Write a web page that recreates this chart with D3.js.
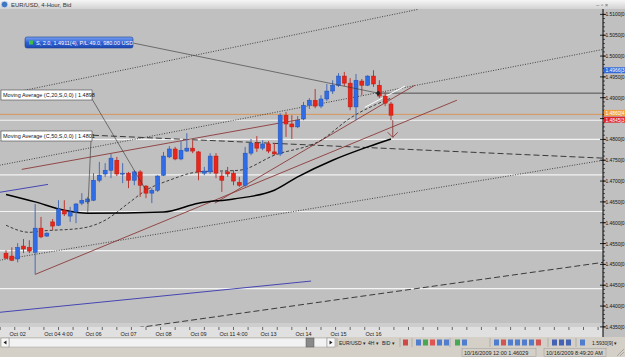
<!DOCTYPE html>
<html lang="en">
<head>
<meta charset="UTF-8" />
<title>EUR/USD, 4-Hour, Bid</title>
<script src="https://d3js.org/d3.v7.min.js"></script>
<style>
  body { margin: 0; width: 625px; height: 357px; overflow: hidden; background: #d4d0c8; }
  svg { display: block; font-family: "Liberation Sans", Arial, sans-serif; }
</style>
</head>
<body>
<svg id="chart" width="625" height="357"></svg>
<script>
// 4-hour candles, oldest first
const opens = [1.4527,1.4520,1.4513,1.4544,1.4541,1.4529,1.4587,1.4568,1.4602,1.4594,
  1.4630,1.4616,1.4626,1.4647,1.4650,1.4654,1.4702,1.4717,1.4726,1.4750,
  1.4717,1.4719,1.4702,1.4722,1.4688,1.4671,1.4678,1.4714,1.4758,1.4777,
  1.4753,1.4772,1.4779,1.4770,1.4719,1.4722,1.4760,1.4712,1.4722,1.4719,
  1.4697,1.4690,1.4767,1.4791,1.4779,1.4789,1.4770,1.4765,1.4858,1.4837,
  1.4830,1.4849,1.4882,1.4894,1.4880,1.4897,1.4916,1.4930,1.4952,1.4935,
  1.4878,1.4940,1.4930,1.4952,1.4930,1.4904,1.4885];
const highs = [1.4534,1.4541,1.4551,1.4561,1.4558,1.4645,1.4614,1.4577,1.4609,1.4654,
  1.4654,1.4638,1.4647,1.4671,1.4662,1.4719,1.4746,1.4743,1.4765,1.4758,
  1.4743,1.4722,1.4726,1.4726,1.4690,1.4683,1.4714,1.4770,1.4784,1.4782,
  1.4796,1.4815,1.4798,1.4772,1.4734,1.4767,1.4767,1.4722,1.4734,1.4726,
  1.4710,1.4782,1.4801,1.4808,1.4798,1.4796,1.4791,1.4863,1.4866,1.4858,
  1.4856,1.4890,1.4899,1.4921,1.4906,1.4933,1.4942,1.4959,1.4962,1.4947,
  1.4957,1.4945,1.4954,1.4966,1.4942,1.4914,1.4890];
const lows = [1.4513,1.4508,1.4505,1.4527,1.4527,1.4476,1.4563,1.4566,1.4582,1.4592,
  1.4616,1.4602,1.4599,1.4642,1.4645,1.4652,1.4697,1.4710,1.4707,1.4712,
  1.4695,1.4683,1.4690,1.4662,1.4659,1.4647,1.4674,1.4712,1.4755,1.4750,
  1.4750,1.4770,1.4767,1.4702,1.4714,1.4717,1.4707,1.4674,1.4710,1.4690,
  1.4686,1.4686,1.4762,1.4770,1.4774,1.4767,1.4762,1.4760,1.4806,1.4801,
  1.4827,1.4846,1.4873,1.4875,1.4875,1.4892,1.4909,1.4926,1.4928,1.4870,
  1.4846,1.4906,1.4928,1.4926,1.4899,1.4880,1.4846];
const closes = [1.4515,1.4510,1.4541,1.4537,1.4532,1.4587,1.4566,1.4575,1.4592,1.4633,
  1.4621,1.4626,1.4645,1.4654,1.4657,1.4702,1.4714,1.4726,1.4755,1.4717,
  1.4719,1.4702,1.4722,1.4690,1.4671,1.4678,1.4712,1.4760,1.4777,1.4753,
  1.4774,1.4779,1.4772,1.4722,1.4724,1.4760,1.4719,1.4702,1.4717,1.4700,
  1.4690,1.4767,1.4791,1.4779,1.4789,1.4772,1.4765,1.4858,1.4837,1.4830,
  1.4846,1.4882,1.4894,1.4880,1.4897,1.4916,1.4930,1.4952,1.4935,1.4878,
  1.4942,1.4930,1.4952,1.4933,1.4904,1.4887,1.4858];

// moving averages as drawn: [bar, price]
const ma20 = [[0,1.4594],[4,1.4577],[6,1.4580],[13,1.4587],[17,1.4606],[21,1.4647],[24,1.4678],
  [28,1.4702],[33,1.4722],[40,1.4726],[46,1.4762],[54,1.4798],[59,1.4851],[66,1.4899]];
const ma50 = [[0,1.4668],[5,1.4650],[10,1.4630],[14,1.4623],[27,1.4626],[33,1.4647],[39,1.4657],
  [46,1.4678],[50,1.4710],[56,1.4750],[62,1.4782],[66,1.4801]];

const dateLabels = ["Oct 02","Oct 04 4:00","Oct 06","Oct 07","Oct 08","Oct 09","Oct 11 4:00","Oct 13","Oct 14","Oct 15","Oct 16"];
const dateLabelBars = [2,9,15,21,27,33,39,45,51,57,63];
const priceTicks = [1.510,1.505,1.500,1.495,1.490,1.485,1.480,1.475,1.470,1.465,1.460,1.455,1.450,1.445,1.440,1.435];

// horizontal levels and user drawn lines, [bar, price]
const whiteLevels = [1.4846,1.4800,1.4715,1.4627,1.4533,1.4442];
const bidPrice = 1.4860;
const orderPrice = 1.4911;
const orderBar = 63.8;
const dottedLines = [[[1.5,1.4913],[70.6,1.5112]], [[-1.1,1.4738],[102.4,1.5016]], [[-1.1,1.4510],[102.4,1.4750]]];
const dashedLines = [[[19.5,1.4342],[102.4,1.4505]], [[14.9,1.4810],[102.4,1.4755]]];
const blueLines = [[[-1.1,1.4673],[7.2,1.4692]], [[-1.1,1.4385],[52.3,1.4460]]];
const brownLines = [[[2.7,1.4728],[50.4,1.4848]], [[5.0,1.4476],[77.3,1.4894]], [[35.8,1.4647],[70.1,1.4930]]];
const whiteSegment = [[61.5,1.4877],[68.4,1.4928]];
const arrowDown = [[66.3,1.4846],[66.3,1.4805]];
const axisMarks = [{ v: 1.4966, t: "1.4966[3" }, { v: 1.4860, t: "1.4860[4" }, { v: 1.4845, t: "1.4845[3" }];

const svg = d3.select("#chart");
const plotTop = 9, plotBottom = 327, plotRight = 603;

const x = d3.scaleLinear().domain([0, 66]).range([6, 391]);
const y = d3.scaleLinear().domain([1.435, 1.51]).range([326.9, 14.4]);
const pt = (p) => [x(p[0]), y(p[1])];
const line = d3.line();

const defs = svg.append("defs");
defs.append("clipPath").attr("id", "plotClip")
  .append("rect").attr("x", 0).attr("y", plotTop).attr("width", plotRight).attr("height", plotBottom - plotTop);
const tg = defs.append("linearGradient").attr("id", "titleGrad").attr("x1", 0).attr("y1", 0).attr("x2", 0).attr("y2", 1);
tg.append("stop").attr("offset", 0).attr("stop-color", "#f6f6f6");
tg.append("stop").attr("offset", 1).attr("stop-color", "#d2d2d2");
const bg = defs.append("linearGradient").attr("id", "blueGrad").attr("x1", 0).attr("y1", 0).attr("x2", 0).attr("y2", 1);
bg.append("stop").attr("offset", 0).attr("stop-color", "#7aa2f0");
bg.append("stop").attr("offset", 0.5).attr("stop-color", "#2f62d6");
bg.append("stop").attr("offset", 1).attr("stop-color", "#1d48b0");

// plot and axis backgrounds
svg.append("rect").attr("x", 0).attr("y", plotTop).attr("width", 625).attr("height", 337 - plotTop).attr("fill", "#c0c0c0");
svg.append("rect").attr("x", 0).attr("y", 323).attr("width", plotRight).attr("height", 4).attr("fill", "#cecece");
svg.append("rect").attr("x", 0).attr("y", plotBottom).attr("width", plotRight).attr("height", 10).attr("fill", "#e0e0e0");

const g = svg.append("g").attr("clip-path", "url(#plotClip)");

g.selectAll(".level").data(whiteLevels).enter().append("line")
  .attr("x1", 0).attr("x2", plotRight).attr("y1", (d) => y(d)).attr("y2", (d) => y(d))
  .attr("stroke", "#f4f4f4").attr("stroke-width", 1.2);

g.append("line").attr("x1", 0).attr("x2", plotRight).attr("y1", y(bidPrice)).attr("y2", y(bidPrice))
  .attr("stroke", "#d9904e").attr("stroke-width", 0.9);
g.append("line").attr("x1", x(orderBar)).attr("x2", plotRight).attr("y1", y(orderPrice)).attr("y2", y(orderPrice))
  .attr("stroke", "#303030").attr("stroke-width", 0.8);

g.selectAll(".dotted").data(dottedLines).enter().append("path")
  .attr("d", (d) => line(d.map(pt))).attr("fill", "none")
  .attr("stroke", "#222").attr("stroke-width", 0.8).attr("stroke-dasharray", "1,1.5");
g.selectAll(".dashed").data(dashedLines).enter().append("path")
  .attr("d", (d) => line(d.map(pt))).attr("fill", "none")
  .attr("stroke", "#2a2a2a").attr("stroke-width", 0.9).attr("stroke-dasharray", "6,3");
g.selectAll(".blue").data(blueLines).enter().append("path")
  .attr("d", (d) => line(d.map(pt))).attr("fill", "none")
  .attr("stroke", "#4646b4").attr("stroke-width", 1);
g.selectAll(".brown").data(brownLines).enter().append("path")
  .attr("d", (d) => line(d.map(pt))).attr("fill", "none")
  .attr("stroke", "#8c3a3a").attr("stroke-width", 0.9);
g.append("path").attr("d", line(whiteSegment.map(pt))).attr("stroke", "#ffffff").attr("stroke-width", 1);

// moving averages
const curve = d3.line().curve(d3.curveMonotoneX);
g.append("path").attr("d", curve(ma20.map(pt))).attr("fill", "none")
  .attr("stroke", "#1a1a1a").attr("stroke-width", 0.8).attr("stroke-dasharray", "3,2");
g.append("path").attr("d", curve(ma50.map(pt))).attr("fill", "none")
  .attr("stroke", "#000").attr("stroke-width", 1.5);

// candles
const bars = d3.range(opens.length);
const up = (i) => closes[i] >= opens[i];
g.selectAll(".wick").data(bars).enter().append("line")
  .attr("x1", (i) => x(i)).attr("x2", (i) => x(i))
  .attr("y1", (i) => y(highs[i])).attr("y2", (i) => y(lows[i]))
  .attr("stroke", (i) => (up(i) ? "#4a6cb4" : "#b83a34")).attr("stroke-width", 1);
g.selectAll(".body").data(bars).enter().append("rect")
  .attr("x", (i) => x(i) - 2).attr("width", 4)
  .attr("y", (i) => y(Math.max(opens[i], closes[i])))
  .attr("height", (i) => Math.max(1, Math.abs(y(opens[i]) - y(closes[i]))))
  .attr("fill", (i) => (up(i) ? "#2f6ce6" : "#e8261c"))
  .attr("stroke", (i) => (up(i) ? "#2350b0" : "#b81a12")).attr("stroke-width", 0.5);

// arrow
g.append("path").attr("d", line(arrowDown.map(pt))).attr("stroke", "#8c3a3a").attr("stroke-width", 0.9);
const ah = pt(arrowDown[1]);
g.append("path").attr("d", `M${ah[0] - 5},${ah[1] - 5}L${ah[0]},${ah[1]}L${ah[0] + 5},${ah[1] - 5}`)
  .attr("fill", "none").attr("stroke", "#8c3a3a").attr("stroke-width", 0.9);

// order marker
const om = pt([orderBar, orderPrice]);
g.append("path").attr("d", `M${om[0] - 2.5},${om[1]}L${om[0]},${om[1] - 2.5}L${om[0] + 2.5},${om[1]}L${om[0]},${om[1] + 2.5}Z`).attr("fill", "#222");

// labels with connectors
const labels = svg.append("g").style("font-size", "5.5px");
labels.append("line").attr("x1", 92).attr("y1", 99).attr("x2", pt(ma20[6])[0]).attr("y2", pt(ma20[6])[1])
  .attr("stroke", "#333").attr("stroke-width", 0.6);
labels.append("line").attr("x1", 91).attr("y1", 140).attr("x2", pt(ma50[3])[0]).attr("y2", pt(ma50[3])[1])
  .attr("stroke", "#333").attr("stroke-width", 0.6);
labels.append("line").attr("x1", 133).attr("y1", 43).attr("x2", om[0]).attr("y2", om[1])
  .attr("stroke", "#333").attr("stroke-width", 0.6);

[{ y: 90, t: "Moving Average (C,20,S,0,0) | 1.4898" }, { y: 131, t: "Moving Average (C,50,S,0,0) | 1.4801" }]
  .forEach((l) => {
    labels.append("rect").attr("x", 1).attr("y", l.y).attr("width", 91).attr("height", 10)
      .attr("fill", "#fff").attr("stroke", "#444").attr("stroke-width", 0.6);
    labels.append("text").attr("x", 3).attr("y", l.y + 7.3).attr("fill", "#111").text(l.t);
  });
labels.append("rect").attr("x", 25).attr("y", 37).attr("width", 108).attr("height", 11).attr("rx", 2)
  .attr("fill", "url(#blueGrad)").attr("stroke", "#1a3c90").attr("stroke-width", 0.6);
labels.append("rect").attr("x", 29).attr("y", 40.5).attr("width", 4).attr("height", 4).attr("fill", "#3cc04a");
labels.append("text").attr("x", 36).attr("y", 45).attr("fill", "#fff").text("S, 2.0, 1.4911(4), P/L:49.0, 980.00 USD");

// right price axis
const ax = svg.append("g").style("font-size", "4.9px");
ax.append("line").attr("x1", plotRight).attr("x2", plotRight).attr("y1", plotTop).attr("y2", 337).attr("stroke", "#000");
ax.selectAll(".minor").data(y.ticks(75)).enter().append("line")
  .attr("x1", plotRight).attr("x2", plotRight + 2).attr("y1", (d) => y(d)).attr("y2", (d) => y(d))
  .attr("stroke", "#000").attr("stroke-width", 0.6);
ax.selectAll(".major").data(priceTicks).enter().append("line")
  .attr("x1", plotRight - 3).attr("x2", plotRight + 3).attr("y1", (d) => y(d)).attr("y2", (d) => y(d))
  .attr("stroke", "#000").attr("stroke-width", 0.8);
ax.selectAll(".plab").data(priceTicks).enter().append("text")
  .attr("x", plotRight + 2.5).attr("y", (d) => y(d) + 2).attr("fill", "#111")
  .text((d) => d.toFixed(4) + "[0");
const markColors = ["#3468d8", "#f0a040", "#e02424"];
const markOffsets = [0, -1.5, -1];
axisMarks.forEach((m, k) => {
  const cy = y(m.v) + markOffsets[k];
  ax.append("rect").attr("x", plotRight + 1).attr("y", cy - 3).attr("width", 22).attr("height", 6).attr("fill", markColors[k]);
  ax.append("text").attr("x", plotRight + 2.5).attr("y", cy + 2).attr("fill", "#fff").text(m.t);
});

// bottom time axis
const tx = svg.append("g").style("font-size", "5.5px");
tx.selectAll(".xt").data(d3.range(-1, 103, 2.5)).enter().append("line")
  .attr("x1", (d) => x(d)).attr("x2", (d) => x(d)).attr("y1", plotBottom).attr("y2", plotBottom + 3)
  .attr("stroke", "#333").attr("stroke-width", 0.7);
tx.selectAll(".xl").data(dateLabels).enter().append("text")
  .attr("x", (d, k) => x(dateLabelBars[k])).attr("y", 336).attr("text-anchor", "middle").attr("fill", "#222")
  .text((d) => d);

// title bar
svg.append("rect").attr("width", 625).attr("height", plotTop).attr("fill", "url(#titleGrad)");
svg.append("circle").attr("cx", 4.5).attr("cy", 4.5).attr("r", 3.3).attr("fill", "#3f78c0").attr("stroke", "#dfe8f5").attr("stroke-width", 0.7);
svg.append("text").attr("x", 11).attr("y", 7).style("font-size", "6px").attr("fill", "#333").text("EUR/USD, 4-Hour, Bid");
svg.append("text").attr("x", 596).attr("y", 7).style("font-size", "6px").attr("fill", "#666").text("–  ▫  ×");

// scroll bar and tool bar
const sb = svg.append("g");
sb.append("rect").attr("x", 0).attr("y", 337).attr("width", 625).attr("height", 20).attr("fill", "#d4d0c8");
sb.append("rect").attr("x", 9).attr("y", 338).attr("width", 318).attr("height", 9).attr("fill", "#f2f2f2").attr("stroke", "#a0a0a0").attr("stroke-width", 0.5);
sb.append("rect").attr("x", 1).attr("y", 338).attr("width", 8).attr("height", 9).attr("fill", "#f8f8f8").attr("stroke", "#808080").attr("stroke-width", 0.5);
sb.append("path").attr("d", "M3.5,342.5L6.5,340.5L6.5,344.5Z").attr("fill", "#222");
sb.append("rect").attr("x", 306).attr("y", 338).attr("width", 8).attr("height", 9).attr("fill", "#8a8a8a").attr("stroke", "#555").attr("stroke-width", 0.5);
sb.append("rect").attr("x", 327).attr("y", 338).attr("width", 8).attr("height", 9).attr("fill", "#f8f8f8").attr("stroke", "#808080").attr("stroke-width", 0.5);
sb.append("path").attr("d", "M332.5,342.5L329.5,340.5L329.5,344.5Z").attr("fill", "#222");

const tb = svg.append("g").style("font-size", "5px").attr("fill", "#222");
[[339, "EUR/USD ▾"], [368, "4H ▾"], [382, "BID ▾"], [592, "1.5930[9] ▾"]].forEach((d) => {
  tb.append("text").attr("x", d[0]).attr("y", 345).text(d[1]);
});
const icons = [[403, "#d03030"], [416, "#3a6fd0"], [423, "#2ea040"], [430, "#e04040"], [437, "#3a6fd0"], [444, "#3a6fd0"],
  [455, "#2ea040"], [462, "#3a6fd0"], [494, "#3a6fd0"], [501, "#d04040"], [508, "#3a6fd0"], [515, "#3a6fd0"],
  [522, "#3a6fd0"], [529, "#3a6fd0"], [536, "#d04040"], [552, "#2a50b0"], [559, "#2a50b0"], [566, "#2a50b0"], [580, "#3a6fd0"]];
icons.forEach((d) => {
  tb.append("rect").attr("x", d[0]).attr("y", 339.5).attr("width", 5).attr("height", 6).attr("fill", d[1]).attr("opacity", 0.85);
});
[337, 400, 412, 450, 490, 548, 576].forEach((sx) => {
  tb.append("line").attr("x1", sx).attr("x2", sx).attr("y1", 338).attr("y2", 347).attr("stroke", "#999").attr("stroke-width", 0.6);
});

// status bar
const st = svg.append("g").style("font-size", "5.5px");
st.append("rect").attr("x", 462).attr("y", 348.5).attr("width", 74).attr("height", 8).attr("fill", "none").attr("stroke", "#999").attr("stroke-width", 0.5);
st.append("rect").attr("x", 544).attr("y", 348.5).attr("width", 62).attr("height", 8).attr("fill", "none").attr("stroke", "#999").attr("stroke-width", 0.5);
st.append("text").attr("x", 464).attr("y", 355).attr("fill", "#222").text("10/16/2009 12:00  1.46029");
st.append("text").attr("x", 546).attr("y", 355).attr("fill", "#222").text("10/16/2009 8:49:20 AM");
st.append("path").attr("d", "M617,356L624,349M620,356L624,352").attr("stroke", "#888").attr("stroke-width", 0.6);
</script>
</body>
</html>
